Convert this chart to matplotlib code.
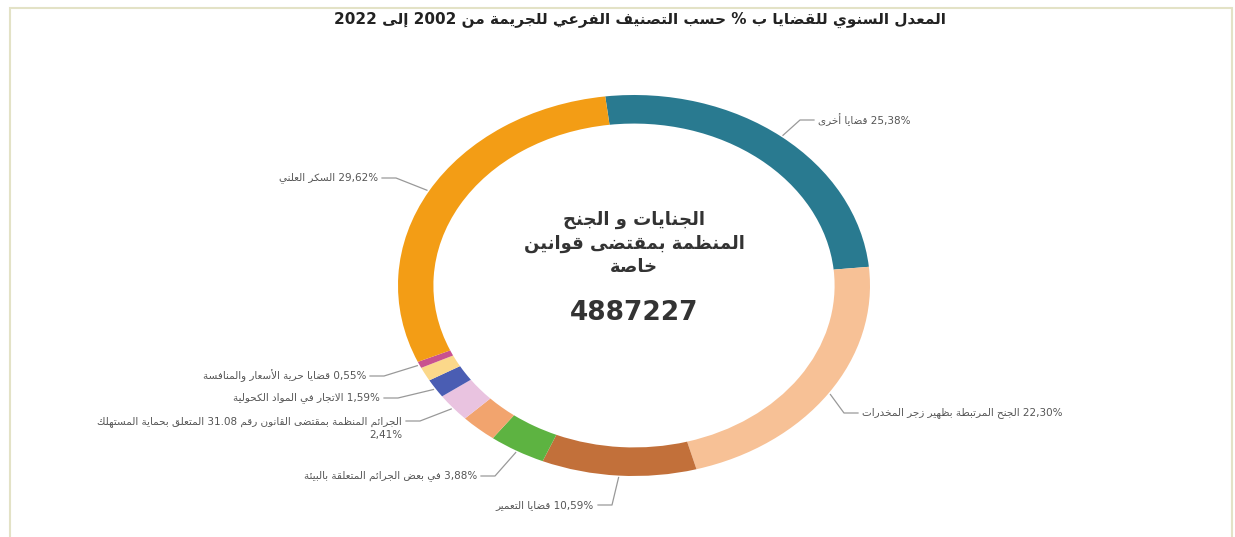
import matplotlib
matplotlib.use("Agg")
import re
import matplotlib.pyplot as plt
import numpy as np
from matplotlib.lines import Line2D
from matplotlib.patches import Rectangle

# Data: share of cases (%) by crime sub-category, clockwise from the top
shares = [25.38, 22.30, 10.59, 3.88, 2.50, 2.41, 1.59, 1.18, 0.55, 29.62]
names = [
    "قضايا أخرى",
    "الجنح المرتبطة بظهير زجر المخدرات",
    "قضايا التعمير",
    "في بعض الجرائم المتعلقة بالبيئة",
    "",
    "الجرائم المنظمة بمقتضى القانون رقم 31.08 المتعلق بحماية المستهلك",
    "الاتجار في المواد الكحولية",
    "",
    "قضايا حرية الأسعار والمنافسة",
    "السكر العلني",
]
pct_labels = ["25,38%", "22,30%", "10,59%", "3,88%", "", "2,41%", "1,59%", "", "0,55%", "29,62%"]
colors = ["#297a90", "#f7c196", "#c2703a", "#5db341", "#f2a46e",
          "#e9c3e0", "#4a5db3", "#fbd88a", "#c9528f", "#f39d15"]

title = "المعدل السنوي للقضايا ب % حسب التصنيف الفرعي للجريمة من 2002 إلى 2022"
center_title = ["الجنايات و الجنح", "المنظمة بمقتضى قوانين", "خاصة"]
total_cases = 4887227

# --- minimal Arabic shaping + right-to-left ordering for matplotlib ---
DUAL = {'ئ': 0xFE89, 'ب': 0xFE8F, 'ت': 0xFE95, 'ث': 0xFE99, 'ج': 0xFE9D, 'ح': 0xFEA1,
        'خ': 0xFEA5, 'س': 0xFEB1, 'ش': 0xFEB5, 'ص': 0xFEB9, 'ض': 0xFEBD, 'ط': 0xFEC1,
        'ظ': 0xFEC5, 'ع': 0xFEC9, 'غ': 0xFECD, 'ف': 0xFED1, 'ق': 0xFED5, 'ك': 0xFED9,
        'ل': 0xFEDD, 'م': 0xFEE1, 'ن': 0xFEE5, 'ه': 0xFEE9, 'ي': 0xFEF1}
RIGHT = {'آ': 0xFE81, 'أ': 0xFE83, 'ؤ': 0xFE85, 'إ': 0xFE87, 'ا': 0xFE8D, 'ة': 0xFE93,
         'د': 0xFEA9, 'ذ': 0xFEAB, 'ر': 0xFEAD, 'ز': 0xFEAF, 'و': 0xFEED, 'ى': 0xFEEF,
         '\uFEF5': 0xFEF5, '\uFEF7': 0xFEF7, '\uFEF9': 0xFEF9, '\uFEFB': 0xFEFB}
LAM_ALEF = {'آ': '\uFEF5', 'أ': '\uFEF7', 'إ': '\uFEF9', 'ا': '\uFEFB'}


def shape(s):
    chars = []
    i = 0
    while i < len(s):
        if s[i] == 'ل' and i + 1 < len(s) and s[i + 1] in LAM_ALEF:
            chars.append(LAM_ALEF[s[i + 1]])
            i += 2
        else:
            chars.append(s[i])
            i += 1
    out = []
    for k, c in enumerate(chars):
        prev = chars[k - 1] if k > 0 else ''
        nxt = chars[k + 1] if k + 1 < len(chars) else ''
        joins_prev = prev in DUAL
        if c in DUAL:
            joins_next = nxt in DUAL or nxt in RIGHT
            if joins_prev and joins_next:
                form = 3
            elif joins_next:
                form = 2
            elif joins_prev:
                form = 1
            else:
                form = 0
            out.append(chr(DUAL[c] + form))
        elif c in RIGHT:
            out.append(chr(RIGHT[c] + (1 if joins_prev else 0)))
        elif c == 'ء':
            out.append('\uFE80')
        else:
            out.append(c)
    return ''.join(out)


def ar(s):
    # reverse for display, then put number runs back in reading order
    vis = shape(s)[::-1]
    return re.sub(r'[0-9%][0-9.,%]*', lambda m: m.group(0)[::-1], vis)


plt.rcParams['font.family'] = ['DejaVu Sans']

W, H = 1235, 537
fig = plt.figure(figsize=(W / 100, H / 100), dpi=100)
fig.patch.set_facecolor("white")

# thin frame around the card
fig.add_artist(Rectangle((10 / W, -0.05), (1232 - 10) / W, 1.05 - 8 / H,
                         transform=fig.transFigure, fill=False,
                         edgecolor="#e3e2c6", linewidth=1.5))


def px(x, y):
    return x / W, 1 - y / H


fig.text(*px(640, 20), ar(title), ha="center", va="center",
         fontsize=11, fontweight="bold", color="#222222")

# donut occupies a stretched box, so the ring is slightly elliptical
ax = fig.add_axes([398 / W, 1 - 476 / H, 472 / W, 381 / H])
wedges, _ = ax.pie(shares, colors=colors, startangle=97, counterclock=False,
                   radius=1.0, wedgeprops=dict(width=0.15, linewidth=0))
ax.set_aspect("auto")
ax.set_xlim(-1, 1)
ax.set_ylim(-1, 1)
ax.axis("off")

ax.text(0, 0.22, "\n".join(ar(t) for t in center_title), ha="center", va="center",
        fontsize=13, fontweight="bold", color="#333333", linespacing=1.4)
ax.text(0, -0.145, str(total_cases), ha="center", va="center",
        fontsize=19, fontweight="bold", color="#333333")

# label placement: (text anchor x, y in pixels, side)
layout = {
    0: (818, 120, "left"),
    1: (862, 413, "left"),
    2: (594, 505, "right"),
    3: (477, 476, "right"),
    5: (402, 421, "right"),
    6: (380, 398, "right"),
    8: (366, 376, "right"),
    9: (378, 178, "right"),
}

for idx, (tx, ty, side) in layout.items():
    w = wedges[idx]
    mid = np.deg2rad((w.theta1 + w.theta2) / 2)
    ax_x, ax_y = ax.transData.transform((1.01 * np.cos(mid), 1.01 * np.sin(mid)))
    ty_d = H - ty
    if side == "left":
        end_x = tx - 4
        elbow_x = end_x - 14
    else:
        end_x = tx + 4
        elbow_x = end_x + 14
    fig.add_artist(Line2D([ax_x, elbow_x, end_x], [ax_y, ty_d, ty_d],
                          color="#999999", linewidth=0.9, transform=None))
    if idx == 5:
        txt = ar(names[idx]) + "\n" + pct_labels[idx]
        fig.text(tx / W, 1 - (ty + 7) / H, txt, ha="right", va="center",
                 fontsize=7.5, color="#555555", multialignment="right",
                 linespacing=1.3)
    else:
        txt = ar(pct_labels[idx] + " " + names[idx])
        fig.text(tx / W, 1 - ty / H, txt, ha=side, va="center",
                 fontsize=7.5, color="#555555")

fig.savefig("out.png", dpi=100, facecolor="white")
